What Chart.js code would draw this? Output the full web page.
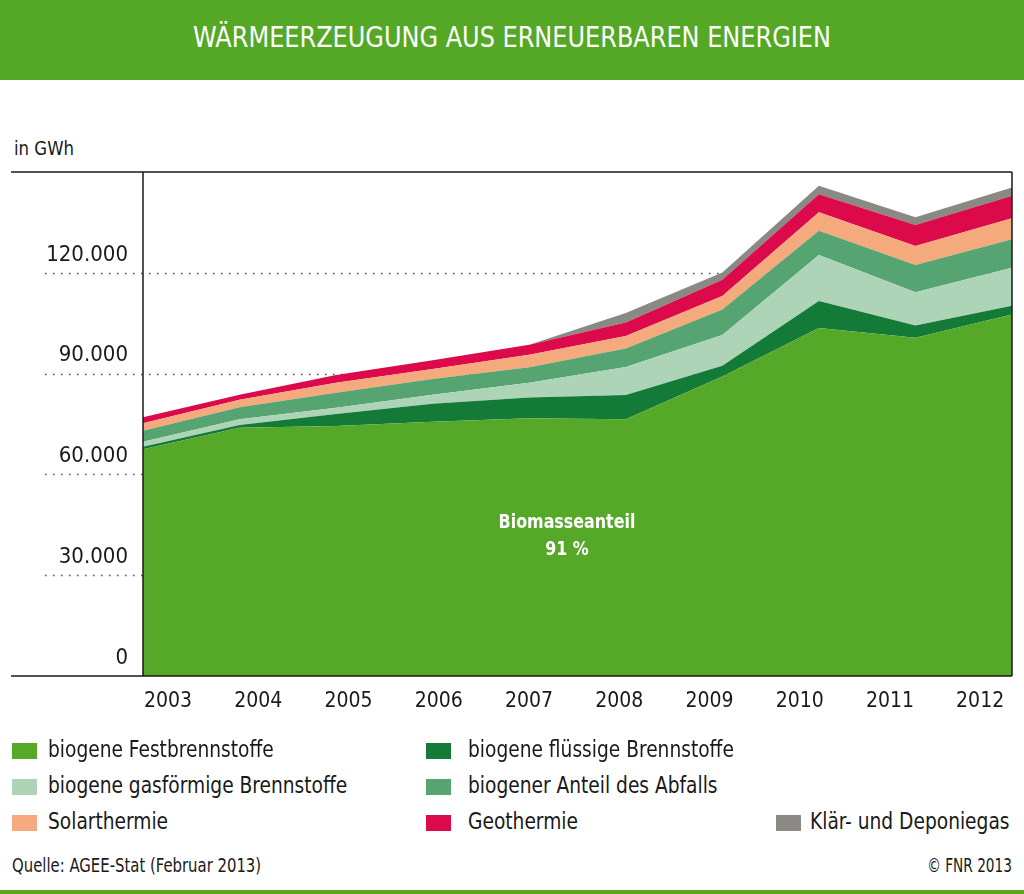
<!DOCTYPE html>
<html>
<head>
<meta charset="utf-8">
<script src="https://cdn.jsdelivr.net/npm/chart.js@4/dist/chart.umd.min.js"></script>
<style>
  html, body { margin: 0; padding: 0; background: #fff; }
  body { width: 1024px; height: 894px; position: relative; overflow: hidden;
         font-family: "DejaVu Sans Condensed", "Liberation Sans", sans-serif; color: #1a1a1a; }
  #banner { position: absolute; left: 0; top: 0; width: 1024px; height: 80px; background: #55a825; }
  #title { position: absolute; left: 512px; top: 20px; color: #fff; font-size: 29px; white-space: nowrap;
           transform: translateX(-50%) scaleX(0.92); transform-origin: center; }
  #unit { position: absolute; left: 14px; top: 136px; font-size: 20px; transform: scaleX(0.92); transform-origin: left; }
  #wrap { position: absolute; left: 0; top: 100px; width: 1024px; height: 640px; }
  #note { position: absolute; left: 467px; top: 508px; width: 200px; text-align: center; color: #fff;
          font-weight: bold; font-size: 19px; line-height: 27px; transform: scaleX(0.93); }
  .leg { position: absolute; font-size: 23px; white-space: nowrap; }
  .leg span.sw { position: absolute; left: 0; top: 7px; width: 25px; height: 16px; }
  .leg span.tx { position: absolute; top: 0; transform: scaleX(0.9); transform-origin: left; }
  #src { position: absolute; left: 12px; top: 854px; font-size: 19px; white-space: nowrap;
         transform: scaleX(0.87); transform-origin: left; }
  #copy { position: absolute; right: 12px; top: 854px; font-size: 19px; white-space: nowrap;
          transform: scaleX(0.8); transform-origin: right; }
  #foot { position: absolute; left: 0; top: 890px; width: 1024px; height: 4px; background: #55a825; }
</style>
</head>
<body>
<div id="banner"></div>
<div id="title">WÄRMEERZEUGUNG AUS ERNEUERBAREN ENERGIEN</div>
<div id="unit">in GWh</div>
<div id="wrap"><canvas id="c"></canvas></div>
<div id="note">Biomasseanteil<br>91 %</div>
<div id="legend"></div>
<div id="src">Quelle: AGEE-Stat (Februar 2013)</div>
<div id="copy">© FNR 2013</div>
<div id="foot"></div>
<script>
// ---- data (GWh) ----
const years = ["2003","2004","2005","2006","2007","2008","2009","2010","2011","2012"];
const festbrennstoffe   = [67500, 73900, 74400, 75700, 76700, 76400, 89100, 103600, 100700, 107600];
const fluessige         = [  700,   800,  3600,  5300,  6200,  7200,  3200,   8000,   3600,   2600];
const gasfoermige       = [ 1500,  1700,  1800,  2700,  4400,  8400,  9200,  13700,   9900,  11300];
const abfall            = [ 3300,  3600,  4500,  4700,  4600,  5500,  7600,   7200,   8100,   8500];
const solarthermie      = [ 2200,  2200,  3000,  3000,  3700,  3700,  4000,   5500,   5700,   6200];
const geothermie        = [ 1800,  1500,  2300,  2600,  3000,  4000,  4800,   5400,   6200,   6700];
const klaergas          = [    0,     0,     0,     0,     0,  2800,  2200,   2500,   2300,   2500];
const yTickValues       = [0, 30000, 60000, 90000, 120000];
const yTickLabels       = ["0", "30.000", "60.000", "90.000", "120.000"];

const seriesNames  = ["biogene Festbrennstoffe", "biogene flüssige Brennstoffe", "biogene gasförmige Brennstoffe",
                      "biogener Anteil des Abfalls", "Solarthermie", "Geothermie", "Klär- und Deponiegas"];
const seriesValues = [festbrennstoffe, fluessige, gasfoermige, abfall, solarthermie, geothermie, klaergas];
const seriesColors = ["#55a828", "#137a37", "#aed4b7", "#56a472", "#f4aa7c", "#dd0a4b", "#8b8984"];

const datasets = seriesNames.map((name, k) => ({
  label: name,
  data: seriesValues[k].map((v, i) => ({ x: i, y: v })),
  backgroundColor: seriesColors[k],
  borderColor: seriesColors[k],
  borderWidth: 0,
  pointRadius: 0,
  tension: 0,
  fill: k === 0 ? "origin" : "-1"
}));

// legend (HTML), positions = layout: [swatch x, row y, text x]
const legendPos = [[12,736,48],[426,736,468],[12,772,48],[426,772,468],[12,808,48],[426,808,468],[776,808,810]];
const legEl = document.getElementById("legend");
seriesNames.forEach((n, k) => {
  const d = document.createElement("div");
  d.className = "leg";
  d.style.left = legendPos[k][0] + "px";
  d.style.top = legendPos[k][1] + "px";
  d.innerHTML = '<span class="sw" style="background:' + seriesColors[k] + '"></span><span class="tx" style="left:' +
    (legendPos[k][2] - legendPos[k][0]) + 'px">' + n + '</span>';
  legEl.appendChild(d);
});

const FONT = '"DejaVu Sans Condensed", "Liberation Sans", sans-serif';

const framePlugin = {
  id: "frame",
  beforeDatasetsDraw(chart) {
    const { ctx, chartArea } = chart;
    const ys = chart.scales.y;
    ctx.save();
    ctx.strokeStyle = "#555";
    ctx.lineWidth = 1.6;
    ctx.setLineDash([1.6, 6.4]);
    yTickValues.forEach(v => {
      if (v === 0) return;
      const py = Math.round(ys.getPixelForValue(v)) + 0.5;
      ctx.beginPath();
      ctx.moveTo(45, py);
      ctx.lineTo(chartArea.right, py);
      ctx.stroke();
    });
    ctx.restore();
  },
  afterDatasetsDraw(chart) {
    const { ctx, chartArea } = chart;
    ctx.save();
    ctx.strokeStyle = "#1a1a1a";
    ctx.lineWidth = 1.5;
    ctx.beginPath();
    ctx.moveTo(11, chartArea.top); ctx.lineTo(chartArea.right, chartArea.top);
    ctx.moveTo(11, chartArea.bottom); ctx.lineTo(chartArea.right, chartArea.bottom);
    ctx.moveTo(chartArea.left, chartArea.top); ctx.lineTo(chartArea.left, chartArea.bottom);
    ctx.moveTo(chartArea.right, chartArea.top); ctx.lineTo(chartArea.right, chartArea.bottom);
    ctx.stroke();
    ctx.restore();
  }
};

new Chart(document.getElementById("c"), {
  type: "line",
  data: { datasets },
  plugins: [framePlugin],
  options: {
    responsive: true,
    maintainAspectRatio: false,
    animation: false,
    layout: { padding: { left: 0, right: 12, top: 72, bottom: 0 } },
    plugins: { legend: { display: false }, tooltip: { enabled: false } },
    elements: { line: { borderWidth: 0 } },
    scales: {
      x: {
        type: "linear", min: 0, max: years.length - 1,
        grid: { display: false }, border: { display: false },
        afterBuildTicks(scale) {
          const n = years.length;
          scale.ticks = years.map((y, i) => ({ value: 0.26 + i * (8.41 / (n - 1)) }));
        },
        afterFit(scale) { scale.height = 64; },
        ticks: {
          autoSkip: false, maxRotation: 0, padding: 5,
          color: "#1a1a1a", font: { family: FONT, size: 21 },
          callback: (v, i) => years[i]
        }
      },
      y: {
        stacked: true, min: 0, max: 150000,
        grid: { display: false, drawTicks: false }, border: { display: false },
        afterBuildTicks(scale) { scale.ticks = yTickValues.map(v => ({ value: v })); },
        afterFit(scale) { scale.width = 143; },
        ticks: {
          padding: 15, labelOffset: -18,
          color: "#1a1a1a", font: { family: FONT, size: 22 },
          callback: (v, i) => yTickLabels[i]
        }
      }
    }
  }
});
</script>
</body>
</html>
